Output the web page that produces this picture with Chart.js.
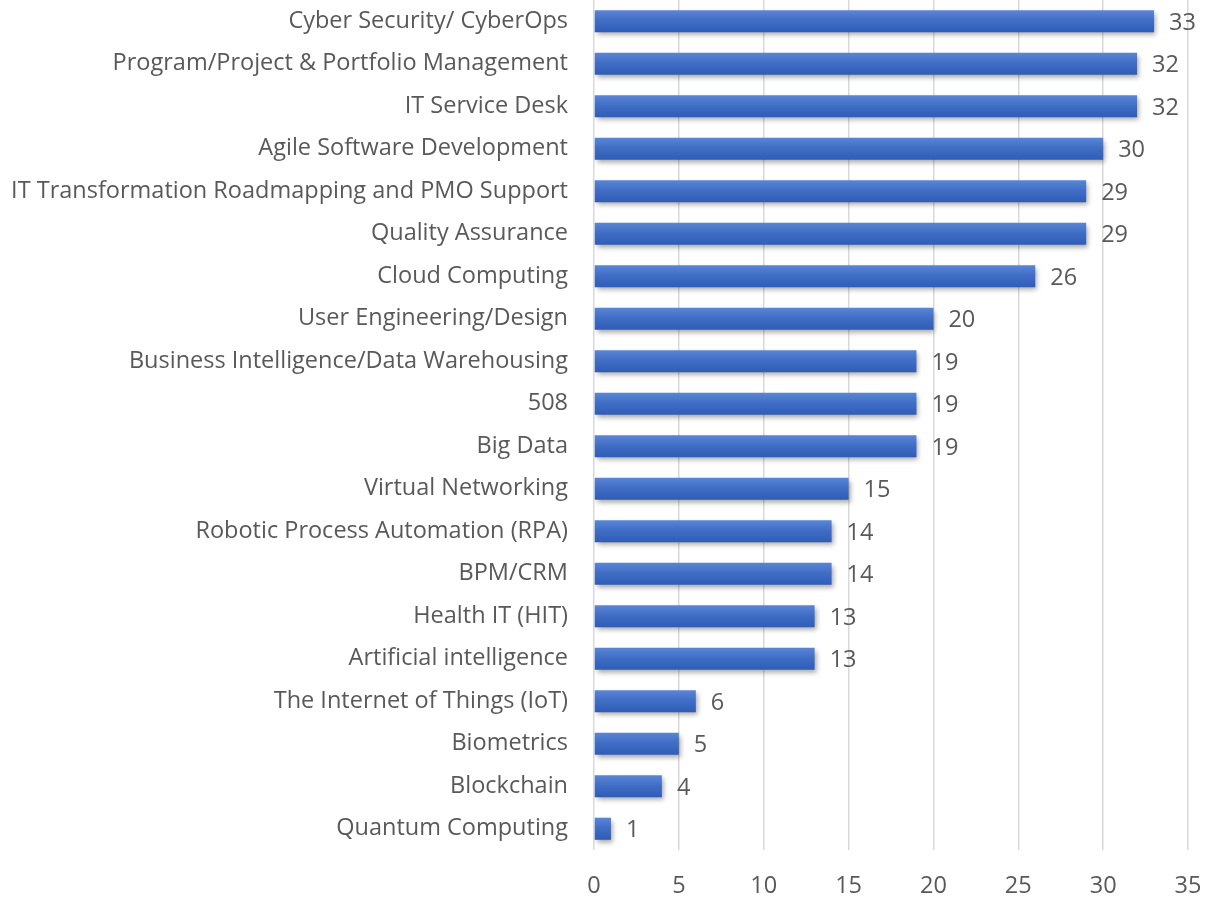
<!DOCTYPE html>
<html>
<head>
<meta charset="utf-8">
<script src="https://cdn.jsdelivr.net/npm/chart.js@4"></script>
<style>
  html, body { margin: 0; padding: 0; background: #fff; }
  #wrap { width: 1211px; height: 901px; }
</style>
</head>
<body>
<div id="wrap"><canvas id="chartSkills"></canvas></div>
<script>
const categories = [
    'Cyber Security/ CyberOps',
    'Program/Project & Portfolio Management',
    'IT Service Desk',
    'Agile Software Development',
    'IT Transformation Roadmapping and PMO Support',
    'Quality Assurance',
    'Cloud Computing',
    'User Engineering/Design',
    'Business Intelligence/Data Warehousing',
    '508',
    'Big Data',
    'Virtual Networking',
    'Robotic Process Automation (RPA)',
    'BPM/CRM',
    'Health IT (HIT)',
    'Artificial intelligence',
    'The Internet of Things (IoT)',
    'Biometrics',
    'Blockchain',
    'Quantum Computing'
];
const counts = [33, 32, 32, 30, 29, 29, 26, 20, 19, 19, 19, 15, 14, 14, 13, 13, 6, 5, 4, 1];
const xTicks = [0, 5, 10, 15, 20, 25, 30, 35];

const textColor = '#595959';
const fontFamily = "'Open Sans', 'Liberation Sans', sans-serif";
const fontSize = 23.5;
const barPct = 0.52;

// bar fill: slight vertical gradient like the office style
const barFill = (context) => {
    const chart = context.chart;
    const yScale = chart.scales.y;
    if (!yScale || context.dataIndex === undefined) return '#4472C4';
    const yc = yScale.getPixelForValue(context.dataIndex);
    const h = (yScale.height / categories.length) * barPct;
    if (!isFinite(yc) || !isFinite(h)) return '#4472C4';
    const g = chart.ctx.createLinearGradient(0, yc - h / 2, 0, yc + h / 2);
    g.addColorStop(0, '#5a86d6');
    g.addColorStop(0.5, '#3f6cc4');
    g.addColorStop(1, '#2f5cb4');
    return g;
};

// shadow under the bars
const barShadow = {
    id: 'barShadow',
    beforeDatasetsDraw(chart) {
        const ctx = chart.ctx;
        ctx.save();
        ctx.shadowColor = 'rgba(0,0,0,0.35)';
        ctx.shadowBlur = 5;
        ctx.shadowOffsetX = 2;
        ctx.shadowOffsetY = 3;
    },
    afterDatasetsDraw(chart) {
        chart.ctx.restore();
    }
};

// value labels at the end of each bar
const valueLabels = {
    id: 'valueLabels',
    afterDatasetsDraw(chart) {
        const ctx = chart.ctx;
        const meta = chart.getDatasetMeta(0);
        ctx.save();
        ctx.fillStyle = textColor;
        ctx.font = fontSize + 'px ' + fontFamily;
        ctx.textAlign = 'left';
        ctx.textBaseline = 'middle';
        meta.data.forEach((bar, i) => {
            ctx.fillText(String(counts[i]), bar.x + 15, bar.y + 2);
        });
        ctx.restore();
    }
};

const contSkills = document.getElementById('chartSkills');
const configSkills = {
    type: 'bar',
    data: {
        labels: categories,
        datasets: [
            {
                data: counts,
                backgroundColor: barFill,
                borderWidth: 0,
                barPercentage: barPct,
                categoryPercentage: 1.0
            }
        ]
    },
    options: {
        indexAxis: 'y',
        responsive: true,
        maintainAspectRatio: false,
        animation: false,
        layout: {
            padding: { top: 0, right: 23, bottom: 0, left: 0 }
        },
        plugins: {
            legend: { display: false },
            tooltip: { enabled: false }
        },
        scales: {
            x: {
                min: 0,
                max: 35,
                afterBuildTicks: (scale) => {
                    scale.ticks = xTicks.map(v => ({ value: v }));
                },
                afterFit: (scale) => {
                    scale.height = 51;
                    scale.paddingLeft = 0;
                    scale.paddingRight = 0;
                },
                grid: {
                    color: '#d9d9d9',
                    lineWidth: 1.5,
                    drawTicks: false
                },
                border: { display: false },
                ticks: {
                    color: textColor,
                    padding: 22,
                    font: { family: fontFamily, size: fontSize }
                }
            },
            y: {
                grid: { display: false, drawTicks: false },
                border: { display: false },
                afterFit: (scale) => {
                    scale.width = 594;
                    scale.paddingTop = 0;
                    scale.paddingBottom = 0;
                },
                ticks: {
                    color: textColor,
                    padding: 26,
                    font: { family: fontFamily, size: fontSize }
                }
            }
        }
    },
    plugins: [barShadow, valueLabels]
};

const chartSkills = new Chart(contSkills, configSkills);
</script>
</body>
</html>
